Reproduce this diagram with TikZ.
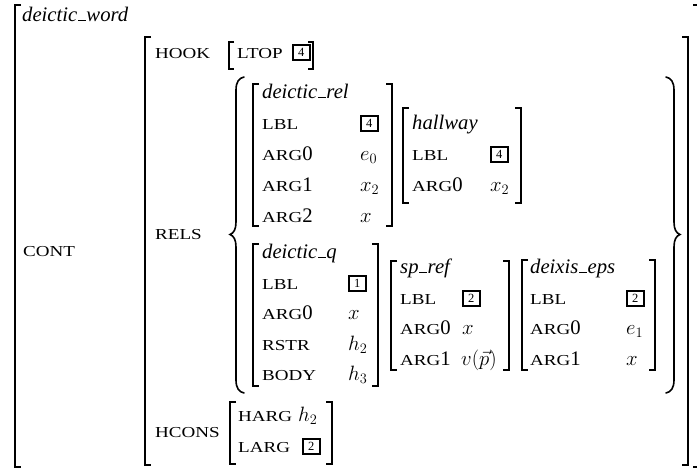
\documentclass[tikz,border=0pt]{standalone}
\usepackage[no-math]{fontspec}
\setmainfont{Liberation Serif}
\usepackage{graphicx}
\newcommand\fsc[1]{\scalebox{0.92}[0.735]{#1}}
\newcommand\us{\kern0.04em\rule[-0.01em]{0.36em}{0.075em}\kern0.04em}
\tikzset{
  txt/.style={anchor=base west, inner sep=0pt, font=\fontsize{20.7}{24}\selectfont},
  bxn/.style={draw, line width=1.6pt, minimum width=17pt, minimum height=14.5pt, inner sep=0pt, anchor=south west, font=\fontsize{12.5}{12.5}\selectfont},
  brk/.style={line width=1.2pt},
  brc/.style={line width=1.6pt, line cap=round}
}
\newcommand\LB[4][6]{\draw[brk] (#2+#1,#3) -- (#2,#3) -- (#2,#4) -- (#2+#1,#4);}
\newcommand\RB[4][6]{\draw[brk] (#2-#1,#3) -- (#2,#3) -- (#2,#4) -- (#2-#1,#4);}
\begin{document}
\begin{tikzpicture}[x=1pt,y=-1pt]
\useasboundingbox (0,0) rectangle (697,469);
\clip (0,0) rectangle (697,469);
% outer matrix
\LB{15}{5}{467}
\RB{699}{5}{467}
\node[txt] (tw) at (22,21) {\textit{deictic\us word}};
\node[txt] (cont) at (23,256) {\fsc{CONT}};
% CONT matrix
\LB{145}{37}{465}
\RB{688}{37}{465}
\node[txt] (hook) at (155,58) {\fsc{HOOK}};
\LB[5]{229}{42}{69}
\node[txt] (ltop) at (237,58) {\fsc{LTOP}};
\node[bxn] (b0) at (292,60.5) {4};
\RB[5]{313}{42}{69}
\node[txt] (rels) at (155,239) {\fsc{RELS}};
% braces
\draw[brc] (244,77) .. controls (239,78) and (236,82) .. (236,90) -- (236,222)
  .. controls (236,229) and (234,233) .. (230,234.5)
  .. controls (234,236) and (236,240) .. (236,247) -- (236,380)
  .. controls (236,388) and (239,392) .. (244,393);
\draw[brc] (666,77) .. controls (671,78) and (674,82) .. (674,90) -- (674,222)
  .. controls (674,229) and (676,233) .. (680,234.5)
  .. controls (676,236) and (674,240) .. (674,247) -- (674,380)
  .. controls (674,388) and (671,392) .. (666,393);
% deictic_rel
\LB{253}{84}{226}
\node[txt] (t1) at (262,98) {\textit{deictic\us rel}};
\node[txt] (f1a) at (262,129) {\fsc{LBL}};
\node[bxn] (v1a) at (360,131.5) {4};
\node[txt] (f1b) at (262,160) {\fsc{ARG}0};
\node[txt] (v1b) at (360,160) {$e_0$};
\node[txt] (f1c) at (262,191) {\fsc{ARG}1};
\node[txt] (v1c) at (360,191) {$x_2$};
\node[txt] (f1d) at (262,222) {\fsc{ARG}2};
\node[txt] (v1d) at (360,222) {$x$};
\RB{392}{84}{226}
% hallway
\LB{403}{108}{203}
\node[txt] (t2) at (412,129) {\textit{hallway}};
\node[txt] (f2a) at (412,160) {\fsc{LBL}};
\node[bxn] (v2a) at (490,162.5) {4};
\node[txt] (f2b) at (412,191) {\fsc{ARG}0};
\node[txt] (v2b) at (490,191) {$x_2$};
\RB{521}{108}{203}
% deictic_q
\LB{253}{244}{386}
\node[txt] (t3) at (262,258) {\textit{deictic\us q}};
\node[txt] (f3a) at (262,289) {\fsc{LBL}};
\node[bxn] (v3a) at (348,291.5) {1};
\node[txt] (f3b) at (262,319) {\fsc{ARG}0};
\node[txt] (v3b) at (348,319) {$x$};
\node[txt] (f3c) at (262,350) {\fsc{RSTR}};
\node[txt] (v3c) at (348,350) {$h_2$};
\node[txt] (f3d) at (262,380) {\fsc{BODY}};
\node[txt] (v3d) at (348,380) {$h_3$};
\RB{378}{244}{386}
% sp_ref
\LB{391}{261}{370}
\node[txt] (t4) at (400,273) {\textit{sp\us ref}};
\node[txt] (f4a) at (400,304) {\fsc{LBL}};
\node[bxn] (v4a) at (462,306.5) {2};
\node[txt] (f4b) at (400,334) {\fsc{ARG}0};
\node[txt] (v4b) at (462,334) {$x$};
\node[txt] (f4c) at (400,365) {\fsc{ARG}1};
\node[txt] (v4c) at (461,365) {$v(\vec{p})$};
\RB{509}{261}{370}
% deixis_eps
\LB{522}{260}{370}
\node[txt] (t5) at (530,273) {\textit{deixis\us eps}};
\node[txt] (f5a) at (530,304) {\fsc{LBL}};
\node[bxn] (v5a) at (626,306.5) {2};
\node[txt] (f5b) at (530,334) {\fsc{ARG}0};
\node[txt] (v5b) at (626,334) {$e_1$};
\node[txt] (f5c) at (530,365) {\fsc{ARG}1};
\node[txt] (v5c) at (626,365) {$x$};
\RB{655}{260}{370}
% HCONS
\node[txt] (hcons) at (155,437) {\fsc{HCONS}};
\LB{230}{402}{464}
\node[txt] (f6a) at (238,421) {\fsc{HARG}};
\node[txt] (v6a) at (298,421) {$h_2$};
\node[txt] (f6b) at (238,452) {\fsc{LARG}};
\node[bxn] (v6b) at (302,454.5) {2};
\RB{332}{402}{464}
\end{tikzpicture}
\end{document}
